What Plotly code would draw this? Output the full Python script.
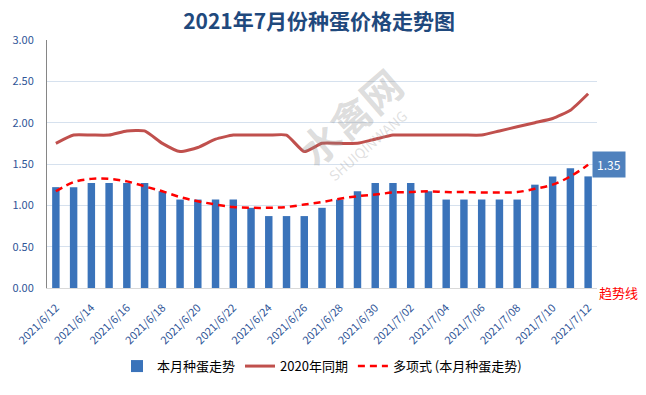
import plotly.graph_objects as go

dates = ["2021/6/12","2021/6/13","2021/6/14","2021/6/15","2021/6/16","2021/6/17","2021/6/18",
         "2021/6/19","2021/6/20","2021/6/21","2021/6/22","2021/6/23","2021/6/24","2021/6/25",
         "2021/6/26","2021/6/27","2021/6/28","2021/6/29","2021/6/30","2021/7/01","2021/7/02",
         "2021/7/03","2021/7/04","2021/7/05","2021/7/06","2021/7/07","2021/7/08","2021/7/09",
         "2021/7/10","2021/7/11","2021/7/12"]
this_month = [1.22,1.22,1.27,1.27,1.27,1.27,1.17,1.07,1.07,1.07,1.07,0.97,0.87,0.87,0.87,0.97,
              1.07,1.17,1.27,1.27,1.27,1.17,1.07,1.07,1.07,1.07,1.07,1.25,1.35,1.45,1.35]
last_year = [1.75,1.85,1.85,1.85,1.90,1.90,1.75,1.65,1.70,1.80,1.85,1.85,1.85,1.85,1.65,1.75,
             1.75,1.75,1.80,1.85,1.85,1.85,1.85,1.85,1.85,1.90,1.95,2.00,2.05,2.15,2.35]
trend = [1.17,1.28,1.32,1.32,1.29,1.23,1.17,1.10,1.05,1.01,0.98,0.97,0.97,0.98,1.01,1.04,
         1.08,1.11,1.13,1.155,1.16,1.17,1.16,1.16,1.155,1.155,1.16,1.20,1.25,1.35,1.49]
tick_labels = dates[::2]
y_ticks = [0, 0.5, 1.0, 1.5, 2.0, 2.5, 3.0]

font_family = "Noto Sans CJK SC, Noto Sans, sans-serif"
blue_txt = "#2F5597"

fig = go.Figure()
fig.add_trace(go.Bar(x=dates, y=this_month, name="本月种蛋走势",
                     marker=dict(color="#3A73BA", line=dict(width=0))))
fig.add_trace(go.Scatter(x=dates, y=last_year, name="2020年同期", mode="lines",
                         line=dict(color="#C0504D", width=3, shape="spline", smoothing=0.5)))
fig.add_trace(go.Scatter(x=dates, y=trend, name="多项式 (本月种蛋走势)", mode="lines",
                         line=dict(color="#FF0000", width=2.5, dash="7px,5px", shape="spline")))

fig.add_annotation(x=dates[-1], y=this_month[-1], text=f"{this_month[-1]:.2f}", showarrow=False,
                   xanchor="left", yanchor="middle", xshift=4, yshift=12,
                   bgcolor="#4F81BD", font=dict(color="white", size=12, family=font_family),
                   borderpad=4)
fig.add_annotation(xref="paper", yref="paper", x=1.0, y=-0.02, text="趋势线", showarrow=False,
                   xanchor="left", yanchor="middle", font=dict(color="#FF0000", size=13, family=font_family))
# watermark
fig.add_annotation(xref="paper", yref="paper", x=0.55, y=0.69, text="<b>水禽网</b>", showarrow=False,
                   xanchor="center", yanchor="middle",
                   textangle=-41, font=dict(color="rgba(140,140,140,0.3)", size=40, family=font_family))
fig.add_annotation(xref="paper", yref="paper", x=0.584, y=0.575, text="SHUIQINWANG", showarrow=False,
                   xanchor="center", yanchor="middle",
                   textangle=-41, font=dict(color="rgba(150,150,150,0.3)", size=14, family=font_family))

fig.update_layout(
    width=646, height=395,
    margin=dict(l=47, r=49, t=40, b=107),
    paper_bgcolor="white", plot_bgcolor="white",
    title=dict(text="<b>2021年7月份种蛋价格走势图</b>", x=0.494, xanchor="center", y=0.945, yanchor="middle",
               font=dict(size=21, color="#1F497D", family=font_family)),
    bargap=0.58,
    font=dict(family=font_family, color=blue_txt),
    showlegend=True,
    legend=dict(orientation="h", xanchor="center", x=0.5, yanchor="middle", y=-0.315,
                font=dict(size=13, color="black", family=font_family),
                itemwidth=30, traceorder="normal"),
)
fig.update_xaxes(type="category", range=[-0.5, len(dates) - 0.5],
                 tickmode="array", tickvals=tick_labels, ticktext=tick_labels,
                 tickangle=-45, tickfont=dict(size=11, color=blue_txt), automargin=False,
                 ticklabelstandoff=8,
                 showline=True, linecolor="#D9D9D9", linewidth=1, showgrid=False, ticks="")
fig.update_yaxes(range=[0, 3], tickvals=y_ticks, tickformat=".2f", automargin=False,
                 tickfont=dict(size=11, color=blue_txt), ticklabelstandoff=10,
                 showgrid=True, gridcolor="#D6E1EE", gridwidth=1,
                 showline=True, linecolor="#868686", linewidth=1, zeroline=False, ticks="")

fig.write_html("out.html", config={"displayModeBar": False},
               post_script="document.body.style.margin='0';")
